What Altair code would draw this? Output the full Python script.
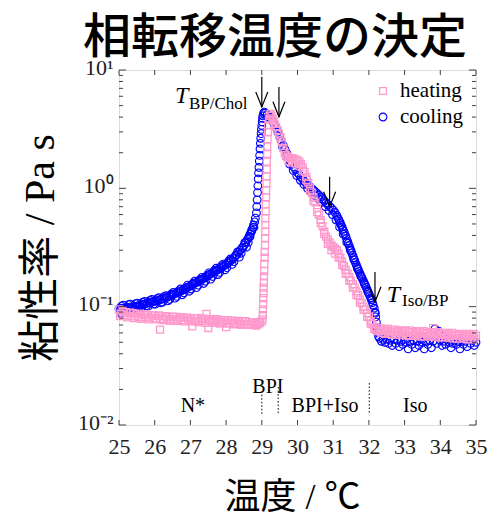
import altair as alt
import pandas as pd

# ---------------- data ----------------
heat_T = [25.00, 25.05, 25.10, 25.15, 25.20, 25.25, 25.30, 25.35, 25.40, 25.45,
          25.50, 25.55, 25.60, 25.65, 25.70, 25.75, 25.80, 25.85, 25.90, 25.95,
          26.00, 26.05, 26.10, 26.15, 26.20, 26.25, 26.30, 26.35, 26.40, 26.45,
          26.50, 26.55, 26.60, 26.65, 26.70, 26.75, 26.80, 26.85, 26.90, 26.95,
          27.00, 27.05, 27.10, 27.15, 27.20, 27.25, 27.30, 27.35, 27.40, 27.45,
          27.50, 27.55, 27.60, 27.65, 27.70, 27.75, 27.80, 27.85, 27.90, 27.95,
          28.00, 28.05, 28.10, 28.15, 28.20, 28.25, 28.30, 28.35, 28.40, 28.45,
          28.50, 28.55, 28.60, 28.65, 28.70, 28.75, 28.80, 28.85, 28.90, 28.95,
          29.00,
          25.03, 25.13, 25.23, 25.33, 25.43, 25.53, 25.63, 25.73, 25.83, 25.93,
          26.03, 26.13, 26.23, 26.33, 26.43, 26.53, 26.63, 26.73, 26.83, 26.93,
          27.03, 27.13, 27.23, 27.33, 27.43, 27.53, 27.63, 27.73, 27.83, 27.93,
          28.03, 28.13, 28.23, 28.33, 28.43, 28.53, 28.63, 28.73, 28.83, 28.93,
          29.02, 29.03, 29.03, 29.04, 29.04, 29.05, 29.05, 29.06, 29.06, 29.07,
          29.07, 29.08, 29.08, 29.09, 29.09, 29.10, 29.10, 29.10, 29.11, 29.11,
          29.12, 29.12, 29.13, 29.13, 29.14, 29.14, 29.15, 29.15, 29.16, 29.17,
          29.18, 29.20, 29.22, 29.24,
          29.27, 29.30, 29.33, 29.36, 29.40, 29.44, 29.48, 29.52, 29.56, 29.60,
          29.64, 29.68, 29.72, 29.76, 29.80, 29.85, 29.90, 29.95, 30.00, 30.05,
          30.10, 30.15, 30.20, 30.25, 30.30, 30.35, 30.40, 30.45, 30.50, 30.55,
          30.60, 30.65, 30.70, 30.75, 30.80, 30.85, 30.90, 30.95, 31.00, 31.05,
          31.10, 31.15, 31.20, 31.25, 31.30, 31.35, 31.40, 31.45, 31.50, 31.55,
          31.60, 31.65, 31.70, 31.75, 31.80, 31.85, 31.90, 31.95, 32.00, 32.05,
          32.10, 32.15, 32.20, 32.25,
          29.75, 29.85, 29.95, 30.05, 30.15, 30.25, 30.35, 30.45, 30.55, 30.65,
          30.75, 30.85, 30.95, 31.05, 31.15, 31.25, 31.35, 31.45, 31.55, 31.65,
          31.75, 31.85, 31.95, 32.05, 32.15,
          32.30, 32.35, 32.40, 32.45, 32.50, 32.55, 32.60, 32.65, 32.70, 32.75,
          32.80, 32.85, 32.90, 32.95, 33.00, 33.05, 33.10, 33.15, 33.20, 33.25,
          33.30, 33.35, 33.40, 33.45, 33.50, 33.55, 33.60, 33.65, 33.70, 33.75,
          33.80, 33.85, 33.90, 33.95, 34.00, 34.05, 34.10, 34.15, 34.20, 34.25,
          34.30, 34.35, 34.40, 34.45, 34.50, 34.55, 34.60, 34.65, 34.70, 34.75,
          34.80, 34.85, 34.90, 34.95, 35.00,
          32.33, 32.43, 32.53, 32.63, 32.73, 32.83, 32.93, 33.03, 33.13, 33.23,
          33.33, 33.43, 33.53, 33.63, 33.73, 33.83, 33.93, 34.03, 34.13, 34.23,
          34.33, 34.43, 34.53, 34.63, 34.73, 34.83, 34.93]
heat_v = [0.095, 0.087, 0.092, 0.085, 0.090, 0.084, 0.089, 0.083, 0.088, 0.083,
          0.087, 0.082, 0.086, 0.082, 0.086, 0.081, 0.085, 0.081, 0.085, 0.080,
          0.084, 0.080, 0.084, 0.064, 0.083, 0.079, 0.083, 0.079, 0.082, 0.078,
          0.082, 0.078, 0.082, 0.078, 0.081, 0.077, 0.081, 0.077, 0.081, 0.077,
          0.080, 0.068, 0.080, 0.076, 0.080, 0.076, 0.079, 0.076, 0.079, 0.087,
          0.066, 0.078, 0.075, 0.078, 0.075, 0.078, 0.074, 0.077, 0.074, 0.077,
          0.067, 0.077, 0.073, 0.076, 0.073, 0.076, 0.072, 0.075, 0.072, 0.075,
          0.071, 0.075, 0.071, 0.074, 0.071, 0.074, 0.070, 0.073, 0.071, 0.073,
          0.075,
          0.083, 0.090, 0.081, 0.088, 0.080, 0.087, 0.079, 0.086, 0.078, 0.085,
          0.078, 0.084, 0.077, 0.083, 0.076, 0.082, 0.076, 0.081, 0.075, 0.080,
          0.075, 0.080, 0.074, 0.079, 0.073, 0.078, 0.073, 0.078, 0.072, 0.077,
          0.072, 0.076, 0.071, 0.076, 0.070, 0.075, 0.070, 0.074, 0.069, 0.074,
          0.078, 0.085, 0.095, 0.105, 0.118, 0.130, 0.145, 0.160, 0.180, 0.200,
          0.230, 0.260, 0.290, 0.330, 0.380, 0.430, 0.490, 0.560, 0.640, 0.730,
          0.840, 0.960, 1.10, 1.26, 1.45, 1.68, 1.95, 2.25, 2.60, 3.00,
          3.40, 3.80, 4.10, 4.25,
          4.10, 3.90, 3.70, 3.50, 3.30, 3.10, 2.90, 2.70, 2.45, 2.20,
          2.00, 1.90, 1.85, 1.82, 1.80, 1.80, 1.78, 1.75, 1.72, 1.68,
          1.60, 1.50, 1.38, 1.25, 1.12, 1.00, 0.92, 0.84, 0.76, 0.68,
          0.60, 0.54, 0.48, 0.43, 0.39, 0.37, 0.35, 0.33, 0.32, 0.31,
          0.30, 0.28, 0.26, 0.24, 0.22, 0.205, 0.19, 0.178, 0.165, 0.155,
          0.145, 0.135, 0.125, 0.115, 0.107, 0.100, 0.094, 0.088, 0.082, 0.076,
          0.071, 0.067, 0.064, 0.062,
          1.70, 1.65, 1.62, 1.55, 1.42, 1.18, 0.95, 0.78, 0.63, 0.51,
          0.41, 0.34, 0.30, 0.28, 0.26, 0.225, 0.19, 0.165, 0.145, 0.125,
          0.108, 0.094, 0.082, 0.072, 0.065,
          0.063, 0.060, 0.062, 0.059, 0.062, 0.059, 0.061, 0.058, 0.061, 0.058,
          0.061, 0.058, 0.060, 0.058, 0.060, 0.057, 0.060, 0.057, 0.060, 0.057,
          0.059, 0.057, 0.059, 0.056, 0.059, 0.056, 0.059, 0.056, 0.058, 0.056,
          0.066, 0.056, 0.058, 0.055, 0.058, 0.055, 0.058, 0.055, 0.057, 0.055,
          0.057, 0.054, 0.057, 0.054, 0.057, 0.054, 0.056, 0.054, 0.056, 0.053,
          0.056, 0.053, 0.056, 0.054, 0.057,
          0.066, 0.064, 0.065, 0.063, 0.064, 0.062, 0.063, 0.062, 0.063, 0.061,
          0.062, 0.061, 0.062, 0.060, 0.061, 0.060, 0.061, 0.059, 0.060, 0.059,
          0.060, 0.058, 0.059, 0.058, 0.059, 0.058, 0.059]

cool_T = [35.00, 34.95, 34.90, 34.85, 34.80, 34.75, 34.70, 34.65, 34.60, 34.55,
          34.50, 34.45, 34.40, 34.35, 34.30, 34.25, 34.20, 34.15, 34.10, 34.05,
          34.00, 33.95, 33.90, 33.85, 33.80, 33.75, 33.70, 33.65, 33.60, 33.55,
          33.50, 33.45, 33.40, 33.35, 33.30, 33.25, 33.20, 33.15, 33.10, 33.05,
          33.00, 32.95, 32.90, 32.85, 32.80, 32.75, 32.70, 32.65, 32.60, 32.55,
          32.50, 32.45, 32.40, 32.35, 32.30,
          32.27, 32.25, 32.23, 32.21, 32.19, 32.17, 32.15, 32.12, 32.10, 32.07,
          32.05, 32.02, 32.00, 31.97, 31.95, 31.92, 31.90, 31.87, 31.85, 31.82,
          31.80, 31.77, 31.75, 31.72, 31.70, 31.67, 31.65, 31.62, 31.60, 31.57,
          31.55, 31.52, 31.50, 31.47, 31.45, 31.42, 31.40, 31.37, 31.35, 31.32,
          31.30, 31.27, 31.25, 31.22, 31.20, 31.17, 31.15, 31.12, 31.10, 31.05,
          31.00, 30.95, 30.90, 30.85, 30.80, 30.75, 30.70, 30.65, 30.60, 30.55,
          30.50, 30.45, 30.40, 30.35, 30.30, 30.25, 30.20, 30.15, 30.10, 30.05,
          30.00, 29.95, 29.90, 29.85, 29.80, 29.75, 29.70, 29.65, 29.60, 29.55,
          29.50, 29.45, 29.40, 29.35, 29.30, 29.25, 29.20, 29.15, 29.10, 29.07,
          29.05, 29.03, 29.02, 29.01, 29.00, 28.99, 28.98, 28.97, 28.96, 28.95,
          28.94, 28.93, 28.92, 28.91, 28.90, 28.89, 28.88, 28.87, 28.86, 28.85,
          28.82, 28.80, 28.77, 28.75, 28.72, 28.70, 28.67, 28.65, 28.62, 28.60,
          28.55, 28.50, 28.45, 28.40, 28.35, 28.30, 28.25, 28.20, 28.15, 28.10,
          28.05, 28.00, 27.95, 27.90, 27.85, 27.80, 27.75, 27.70, 27.65, 27.60,
          27.55, 27.50, 27.45, 27.40, 27.35, 27.30, 27.25, 27.20, 27.15, 27.10,
          27.05, 27.00, 26.95, 26.90, 26.85, 26.80, 26.75, 26.70, 26.65, 26.60,
          26.55, 26.50, 26.45, 26.40, 26.35, 26.30, 26.25, 26.20, 26.15, 26.10,
          26.05, 26.00, 25.95, 25.90, 25.85, 25.80, 25.75, 25.70, 25.65, 25.60,
          25.55, 25.50, 25.45, 25.40, 25.35, 25.30, 25.25, 25.20, 25.15, 25.10,
          25.05, 25.00,
          25.02, 25.12, 25.22, 25.32, 25.42, 25.52, 25.62, 25.72, 25.82, 25.92,
          26.02, 26.12, 26.22, 26.32, 26.42, 26.52, 26.62, 26.72, 26.82, 26.92,
          27.02, 27.12, 27.22, 27.32, 27.42, 27.52, 27.62, 27.72, 27.82, 27.92,
          28.02, 28.12, 28.22, 28.32, 28.42, 28.52, 28.62, 28.72, 28.78,
          25.07, 25.17, 25.27, 25.37, 25.47, 25.57, 25.67, 25.77, 25.87, 25.97,
          26.07, 26.17, 26.27, 26.37, 26.47, 26.57, 26.67, 26.77, 26.87, 26.97,
          27.07, 27.17, 27.27, 27.37, 27.47, 27.57, 27.67, 27.77, 27.87, 27.97,
          28.07, 28.17, 28.27, 28.37, 28.47, 28.57, 28.67,
          25.05, 25.25, 25.60,
          29.58, 29.68, 29.78, 29.88, 29.98, 30.08, 30.18, 30.28, 30.38, 30.48,
          30.58, 30.68, 30.78, 30.88, 30.98, 31.08, 31.18, 31.28, 31.38, 31.48,
          31.58, 31.68, 31.78, 31.88, 31.98, 32.08, 32.18]
cool_v = [0.050, 0.047, 0.052, 0.049, 0.053, 0.046, 0.051, 0.048, 0.052, 0.044,
          0.051, 0.048, 0.052, 0.049, 0.045, 0.050, 0.053, 0.048, 0.051, 0.047,
          0.052, 0.062, 0.049, 0.065, 0.051, 0.045, 0.052, 0.048, 0.051, 0.044,
          0.050, 0.053, 0.047, 0.051, 0.045, 0.052, 0.048, 0.051, 0.044, 0.050,
          0.053, 0.048, 0.051, 0.046, 0.052, 0.049, 0.053, 0.047, 0.052, 0.049,
          0.053, 0.050, 0.053, 0.051, 0.054,
          0.056, 0.060, 0.066, 0.074, 0.082, 0.090, 0.097, 0.103, 0.108, 0.114,
          0.119, 0.124, 0.129, 0.134, 0.140, 0.146, 0.152, 0.158, 0.164, 0.171,
          0.177, 0.184, 0.191, 0.199, 0.207, 0.216, 0.225, 0.236, 0.247, 0.259,
          0.271, 0.284, 0.297, 0.312, 0.327, 0.343, 0.360, 0.378, 0.396, 0.414,
          0.433, 0.451, 0.470, 0.490, 0.510, 0.530, 0.550, 0.570, 0.590, 0.625,
          0.655, 0.680, 0.705, 0.730, 0.755, 0.785, 0.815, 0.845, 0.875, 0.905,
          0.935, 0.965, 0.995, 1.03, 1.06, 1.10, 1.14, 1.19, 1.24, 1.30,
          1.36, 1.43, 1.51, 1.60, 1.71, 1.83, 1.97, 2.13, 2.31, 2.52,
          2.74, 2.98, 3.22, 3.46, 3.68, 3.88, 4.05, 4.20, 4.32, 4.40,
          4.30, 4.10, 3.90, 3.65, 3.40, 3.15, 2.90, 2.65, 2.40, 2.15,
          1.90, 1.70, 1.50, 1.35, 1.20, 1.05, 0.92, 0.80, 0.70, 0.62,
          0.56, 0.52, 0.49, 0.465, 0.445, 0.425, 0.41, 0.395, 0.38, 0.37,
          0.35, 0.33, 0.315, 0.30, 0.287, 0.275, 0.265, 0.255, 0.247, 0.240,
          0.234, 0.228, 0.222, 0.217, 0.212, 0.208, 0.204, 0.200, 0.196, 0.192,
          0.188, 0.183, 0.179, 0.175, 0.172, 0.168, 0.165, 0.162, 0.159, 0.156,
          0.153, 0.150, 0.147, 0.144, 0.141, 0.139, 0.136, 0.134, 0.132, 0.130,
          0.128, 0.126, 0.124, 0.122, 0.120, 0.119, 0.117, 0.116, 0.114, 0.113,
          0.112, 0.111, 0.110, 0.109, 0.108, 0.107, 0.106, 0.105, 0.104, 0.103,
          0.102, 0.101, 0.100, 0.100, 0.099, 0.099, 0.098, 0.098, 0.097, 0.097,
          0.096, 0.096,
          0.092, 0.103, 0.094, 0.105, 0.096, 0.107, 0.098, 0.111, 0.101, 0.115,
          0.105, 0.119, 0.109, 0.124, 0.115, 0.132, 0.122, 0.141, 0.131, 0.152,
          0.141, 0.164, 0.152, 0.177, 0.164, 0.193, 0.180, 0.211, 0.195, 0.229,
          0.214, 0.253, 0.240, 0.290, 0.283, 0.347, 0.350, 0.440, 0.470,
          0.101, 0.095, 0.104, 0.097, 0.106, 0.100, 0.109, 0.102, 0.113, 0.105,
          0.117, 0.108, 0.122, 0.112, 0.128, 0.118, 0.136, 0.126, 0.145, 0.135,
          0.157, 0.145, 0.170, 0.157, 0.185, 0.171, 0.202, 0.187, 0.222, 0.205,
          0.243, 0.228, 0.272, 0.262, 0.315, 0.318, 0.390,
          0.088, 0.090, 0.093,
          2.25, 1.85, 1.60, 1.42, 1.28, 1.17, 1.08, 1.00, 0.93, 0.87,
          0.82, 0.76, 0.70, 0.65, 0.60, 0.54, 0.47, 0.41, 0.35, 0.30,
          0.25, 0.21, 0.18, 0.155, 0.133, 0.115, 0.088]

x_ticks = [25, 26, 27, 28, 29, 30, 31, 32, 33, 34, 35]
y_major = [0.01, 0.1, 1, 10]
y_minor = [0.02, 0.03, 0.04, 0.05, 0.06, 0.07, 0.08, 0.09,
           0.2, 0.3, 0.4, 0.5, 0.6, 0.7, 0.8, 0.9,
           2, 3, 4, 5, 6, 7, 8, 9]

# annotation arrows (temperature, top of shaft, tip)
arrow_T = [29.00, 29.48, 30.90, 32.17]
arrow_top = [8.75, 7.2, 1.25, 0.196]
arrow_tip = [4.87, 4.02, 0.70, 0.110]

# phase region labels
phase_labels = ["N*", "BPI", "BPI+Iso", "Iso"]
phase_T = [27.07, 29.17, 30.77, 33.30]
phase_y = [0.0129, 0.0186, 0.0129, 0.0129]

# dotted phase boundaries
bound_T = [29.00, 29.46, 32.01]
bound_top = [0.0180, 0.0209, 0.0226]
bound_bot = [0.0122, 0.0122, 0.0122]

# T labels
tlab_main = ["T", "T"]
tlab_sub = ["BP/Chol", "Iso/BP"]
tlab_T = [26.57, 32.50]
tlab_y = [5.27, 0.1096]
tsub_T = [26.96, 32.93]
tsub_y = [4.69, 0.1014]

legend_labels = ["heating", "cooling"]
title_text = "相転移温度の決定"

PINK = "#FF99CC"
BLUE = "#0000FF"
SERIF = "Liberation Serif, Times New Roman, Noto Sans CJK JP, serif"
W, H = 357, 355

xs = alt.Scale(domain=[25, 35], nice=False, zero=False)
ys = alt.Scale(type="log", domain=[0.01, 10], nice=False)

heat = pd.DataFrame({"T": heat_T, "v": heat_v})
cool = pd.DataFrame({"T": cool_T, "v": cool_v})

label_expr = ("datum.value >= 5 ? '10\u00b9' : datum.value >= 0.5 ? '10\u2070' : "
              "datum.value >= 0.05 ? '10\u207b\u00b9' : '10\u207b\u00b2'")

NOX = alt.X("T:Q", scale=xs, axis=None)
NOY = alt.Y("v:Q", scale=ys, axis=None)

base_cool = alt.Chart(cool).mark_point(
    shape="circle", filled=False, color=BLUE, size=60, strokeWidth=1.1, opacity=1
).encode(
    x=alt.X("T:Q", scale=xs, axis=alt.Axis(
        values=x_ticks, title="温度 / ℃", grid=False, ticks=False, domain=False,
        labelFont=SERIF, labelFontSize=22, labelColor="#222", labelPadding=11,
        labelFlush=False,
        titleFont=SERIF, titleFontSize=36, titleFontWeight="normal", titleColor="black",
        titleX=173, titleY=72, titleBaseline="middle", titleAlign="center")),
    y=alt.Y("v:Q", scale=ys, axis=alt.Axis(
        values=y_major, labelExpr=label_expr, title="粘性率 / Pa s", grid=False,
        ticks=False, domain=False, labelFont=SERIF, labelFontSize=22,
        labelColor="#222", labelPadding=6, labelOffset=-3, labelFlush=False,
        titleFont=SERIF, titleFontSize=42, titleFontWeight="normal", titleColor="black",
        titleX=-79, titleY=177.5, titleAngle=-90, titleBaseline="middle",
        titleAlign="center")),
)

heat_layer = alt.Chart(heat).mark_point(
    shape="square", filled=False, color=PINK, size=48, strokeWidth=1.3, opacity=1
).encode(x=NOX, y=NOY)

xt = pd.DataFrame({"t": x_ticks})
ymj = pd.DataFrame({"t": y_major})
ymn = pd.DataFrame({"t": y_minor})
TICK = "#404040"

def xtick(y0, y1):
    return alt.Chart(xt).mark_rule(color=TICK, strokeWidth=1).encode(
        x=alt.X("t:Q", scale=xs, axis=None), y=alt.value(y0), y2=alt.value(y1))

def ytick(df, x0, x1):
    return alt.Chart(df).mark_rule(color=TICK, strokeWidth=1).encode(
        y=alt.Y("t:Q", scale=ys, axis=None), x=alt.value(x0), x2=alt.value(x1))

ticks = [xtick(H, H - 5), xtick(0, 5),
         ytick(ymj, 0, 7), ytick(ymj, W, W - 7),
         ytick(ymn, 0, 4), ytick(ymn, W, W - 4)]

arr = pd.DataFrame({"T": arrow_T, "top": arrow_top, "tip": arrow_tip})
shafts = alt.Chart(arr).mark_rule(color="black", strokeWidth=1.2).encode(
    x=NOX, y=alt.Y("top:Q", scale=ys, axis=None), y2="tip:Q")
heads = alt.Chart(arr).mark_point(
    shape="M -0.4 -1 L 0 0 L 0.4 -1", size=900, filled=False,
    color="black", strokeWidth=1.2, opacity=1
).encode(x=NOX, y=alt.Y("tip:Q", scale=ys, axis=None))

ph = pd.DataFrame({"label": phase_labels, "T": phase_T, "y": phase_y})
phase_text = alt.Chart(ph).mark_text(
    font=SERIF, fontSize=20, align="center", baseline="alphabetic", color="black"
).encode(x=NOX, y=alt.Y("y:Q", scale=ys, axis=None), text="label:N")

bd = pd.DataFrame({"T": bound_T, "top": bound_top, "bot": bound_bot})
bounds = alt.Chart(bd).mark_rule(color="black", strokeWidth=1, strokeDash=[1.5, 2]).encode(
    x=NOX, y=alt.Y("top:Q", scale=ys, axis=None), y2="bot:Q")

tl = pd.DataFrame({"m": tlab_main, "s": tlab_sub, "T": tlab_T, "y": tlab_y,
                   "Ts": tsub_T, "ys": tsub_y})
t_main = alt.Chart(tl).mark_text(
    font=SERIF, fontSize=24, fontStyle="italic", align="left", baseline="alphabetic",
    color="black"
).encode(x=NOX, y=alt.Y("y:Q", scale=ys, axis=None), text="m:N")
t_sub = alt.Chart(tl).mark_text(
    font=SERIF, fontSize=17, align="left", baseline="alphabetic", color="black"
).encode(x=alt.X("Ts:Q", scale=xs, axis=None), y=alt.Y("ys:Q", scale=ys, axis=None),
         text="s:N")

lg = pd.DataFrame({"label": legend_labels})
leg_sq = alt.Chart(lg.iloc[[0]]).mark_point(
    shape="square", filled=False, color=PINK, size=48, strokeWidth=1.3, opacity=1
).encode(x=alt.value(264), y=alt.value(21))
leg_ci = alt.Chart(lg.iloc[[1]]).mark_point(
    shape="circle", filled=False, color=BLUE, size=60, strokeWidth=1.1, opacity=1
).encode(x=alt.value(264), y=alt.value(47))
leg_t1 = alt.Chart(lg.iloc[[0]]).mark_text(
    font=SERIF, fontSize=21, align="left", baseline="middle", color="black"
).encode(x=alt.value(281), y=alt.value(21), text="label:N")
leg_t2 = alt.Chart(lg.iloc[[1]]).mark_text(
    font=SERIF, fontSize=21, align="left", baseline="middle", color="black"
).encode(x=alt.value(281), y=alt.value(47), text="label:N")

ttl = alt.Chart(pd.DataFrame({"t": [title_text]})).mark_text(
    font="Noto Sans CJK JP", fontSize=48, fontWeight=500, color="black",
    align="center", baseline="alphabetic"
).encode(x=alt.value(156), y=alt.value(-17), text="t:N")

chart = alt.layer(
    base_cool, heat_layer, *ticks, shafts, heads, bounds, phase_text,
    t_main, t_sub, leg_sq, leg_ci, leg_t1, leg_t2, ttl
).resolve_scale(x="independent", y="independent").properties(
    width=W, height=H,
    autosize=alt.AutoSizeParams(type="none"),
    padding={"left": 111, "top": 62, "right": 16, "bottom": 88},
).configure_view(stroke="#404040", strokeWidth=1).configure(background="white")

chart.save("out.html", embed_options={"renderer": "svg", "actions": False})
